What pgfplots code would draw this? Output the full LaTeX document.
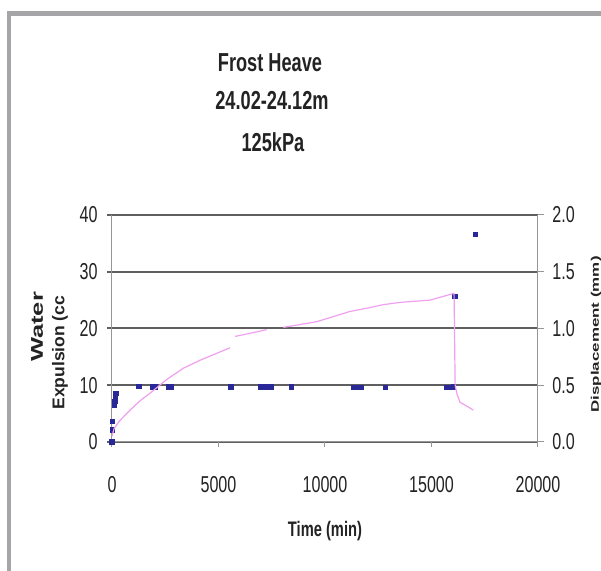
\documentclass[border=0pt]{standalone}
\usepackage{fontspec}
\setmainfont{Liberation Sans}
\newfontfamily\narrowfont{Liberation Sans}[FakeStretch=0.7]
\usepackage{pgfplots}
\pgfplotsset{compat=1.18}
\definecolor{framegray}{RGB}{165,165,168}
\definecolor{gridgray}{RGB}{95,95,95}
\definecolor{axisgray}{RGB}{150,150,150}
\definecolor{ptblue}{RGB}{40,40,150}
\definecolor{pinkline}{RGB}{240,160,240}
\definecolor{txt}{RGB}{35,35,35}

\begin{document}
\begin{tikzpicture}
\useasboundingbox (0pt,0pt) rectangle (300.5pt,285.5pt);
\fill[white] (0pt,0pt) rectangle (300.5pt,285.5pt);
\fill[framegray] (3.5pt,0pt) rectangle (5.5pt,280pt);
\fill[framegray] (3.5pt,277.5pt) rectangle (300.5pt,280pt);

% Titles
\node[anchor=base, text=txt, font=\narrowfont\bfseries\fontsize{13}{15}\selectfont] at (135pt,249.5pt) {Frost Heave};
\node[anchor=base, text=txt, font=\narrowfont\bfseries\fontsize{13}{15}\selectfont] at (136pt,230.5pt) {24.02-24.12m};
\node[anchor=base, text=txt, font=\narrowfont\bfseries\fontsize{13}{15}\selectfont] at (136.5pt,209.5pt) {125kPa};

% x label
\node[anchor=base, text=txt, font=\narrowfont\bfseries\fontsize{10.5}{12}\selectfont] at (162.5pt,17.2pt) {Time (min)};

% y labels
\node[rotate=90, text=txt, inner sep=0pt] at (18.5pt,122pt) {\scalebox{1.5}[1]{\fontsize{8.5}{10}\bfseries Water}};
\node[rotate=90, anchor=west, text=txt, inner sep=0pt] at (30pt,80.5pt) {\scalebox{1.03}[1]{\fontsize{8.5}{10}\bfseries Expulsion (cc}};
\begin{scope}
\clip (280pt,0pt) rectangle (300.5pt,160.5pt);
\node[rotate=90, anchor=west, text=txt, inner sep=0pt] at (298pt,79pt) {\scalebox{1.54}[1]{\fontsize{5.5}{6}\bfseries Displacement (mm)}};
\end{scope}

\begin{axis}[
  at={(56pt,64.5pt)}, anchor=south west,
  scale only axis, width=213pt, height=113.5pt,
  xmin=0, xmax=20000, ymin=0, ymax=40,
  xtick={0,5000,10000,15000,20000},
  ytick={0,10,20,30,40},
  scaled x ticks=false,
  /pgf/number format/assume math mode=true,
  /pgf/number format/1000 sep={},
  ticklabel style={font=\narrowfont\fontsize{11.5}{12}\selectfont, text=txt},
  axis x line*=bottom, axis y line*=left,
  axis line style={-, axisgray, line width=0.5pt},
  tick align=outside, major tick length=2.5pt,
  ytick style={gridgray, line width=1pt},
  xtick style={axisgray, line width=0.5pt},
  ymajorgrids, grid style={gridgray, line width=1pt},
  xticklabel shift=11pt,
  yticklabel shift=1.2pt,
  clip=false,
]
\addplot[only marks, mark=square*, mark size=1.1pt, color=ptblue] coordinates {
(0,0) (20,2.1) (30,3.6) (120,6.5) (140,7.1) (160,8.0) (180,8.6)
(1268,9.8) (1892,9.7) (2019,9.7) (2644,9.7) (2800,9.7)
(5587,9.7) (6995,9.7) (7214,9.7) (7465,9.7) (8435,9.7)
(11330,9.6) (11487,9.6) (11721,9.6) (12848,9.6)
(15712,9.6) (15869,9.6) (16025,9.7) (16103,25.7) (17075,36.6)
};
\end{axis}

\begin{axis}[
  at={(56pt,64.5pt)}, anchor=south west,
  scale only axis, width=213pt, height=113.5pt,
  xmin=0, xmax=20000, ymin=0, ymax=2,
  axis x line=none, axis y line*=right,
  axis line style={-, axisgray, line width=0.5pt},
  ytick={0,0.5,1,1.5,2},
  /pgf/number format/assume math mode=true,
  yticklabel style={/pgf/number format/.cd, fixed, fixed zerofill, precision=1},
  ticklabel style={font=\narrowfont\fontsize{11.5}{12}\selectfont, text=txt},
  tick align=outside, major tick length=3pt,
  ytick style={axisgray, line width=0.5pt},
  yticklabel shift=0.7pt,
  unbounded coords=jump,
  clip=false,
]
\addplot[pinkline, line width=0.6pt] coordinates {
(0,0.05) (100,0.12) (376,0.19) (845,0.28) (1300,0.36) (1784,0.43) (2566,0.55)
(3349,0.65) (4131,0.72) (5540,0.83) (5600,nan)
(5775,0.93) (6792,0.97) (7261,0.99) (7500,nan)
(8044,1.01) (9609,1.06) (11174,1.15) (12000,1.18) (12739,1.21) (13521,1.23)
(14930,1.25) (15500,1.28) (16060,1.31) (16110,0.50) (16200,0.42) (16340,0.35)
(16800,0.30) (16964,0.28)
};
\end{axis}
\end{tikzpicture}
\end{document}
